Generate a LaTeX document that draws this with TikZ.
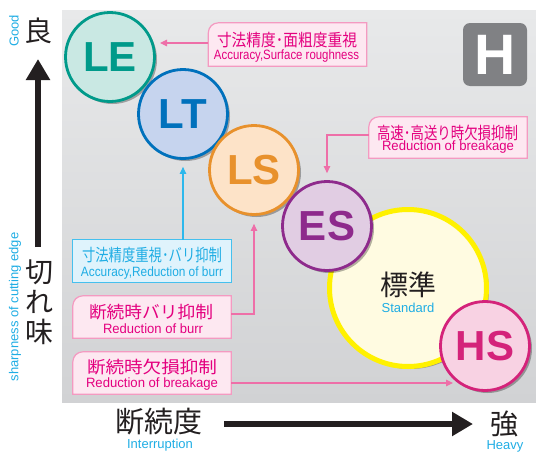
\documentclass[tikz,border=0pt]{standalone}
\usepackage{fontspec}
\setmainfont{Liberation Sans}
\newfontfamily\jp{Noto Sans CJK JP}
\usepackage{graphicx}
\usetikzlibrary{arrows.meta,shadows,calc}
\pgfdeclarelayer{panel}\pgfdeclarelayer{boxes}
\pgfsetlayers{panel,boxes,main}
\definecolor{panelTop}{HTML}{E8E9EA}
\definecolor{panelBot}{HTML}{D1D2D4}
\definecolor{leB}{HTML}{009A8A}\definecolor{leF}{HTML}{C9E8E3}
\definecolor{ltB}{HTML}{0071BC}\definecolor{ltF}{HTML}{C6D4EE}
\definecolor{lsB}{HTML}{E8912C}\definecolor{lsF}{HTML}{FDE3C8}
\definecolor{esB}{HTML}{8E2A8C}\definecolor{esF}{HTML}{E1CDE3}
\definecolor{stB}{HTML}{FFF100}\definecolor{stF}{HTML}{FFFBE1}
\definecolor{hsB}{HTML}{D4237A}\definecolor{hsF}{HTML}{F8D2E3}
\definecolor{pinkT}{HTML}{E4007F}\definecolor{pinkB}{HTML}{F49AC1}
\definecolor{pinkF}{HTML}{FDE8F1}\definecolor{pinkA}{HTML}{EE6FA8}
\definecolor{cyanT}{HTML}{1FADE4}\definecolor{cyanB}{HTML}{45C0EE}
\definecolor{cyanF}{HTML}{DFF3FC}\definecolor{cyanA}{HTML}{2DB8EC}
\definecolor{hgray}{HTML}{808184}
\definecolor{ink}{HTML}{231F20}
\newcommand\fitw[2]{\resizebox{#1}{\height}{#2}}
\begin{document}
\begin{tikzpicture}[x=1pt,y=-1pt,
  circ/.style={circle,minimum size=89pt,inner sep=0pt,line width=2.8pt,
    font=\bfseries\fontsize{42pt}{42pt}\selectfont,
    drop shadow={shadow xshift=2.5pt,shadow yshift=-2.5pt,fill=black,opacity=0.3}},
  boxnode/.style={minimum width=158pt,minimum height=42pt,inner sep=0pt},
  pinkbox/.style={draw=pinkB,fill=pinkF,line width=1.2pt},
  cyanbox/.style={draw=cyanB,fill=cyanF,line width=1.2pt},
  jpt/.style={inner sep=0pt,font=\jp\fontsize{17pt}{18pt}\selectfont},
  ent/.style={inner sep=0pt,font=\fontsize{13.5pt}{15pt}\selectfont},
  pinkarrow/.style={draw=pinkA,line width=1.2pt,-{Triangle[length=7pt,width=6.5pt]}},
  cyanarrow/.style={draw=cyanA,line width=1.2pt,-{Triangle[length=7pt,width=6.5pt]}},
  axisarrow/.style={draw=ink,line width=6.5pt,-{Triangle[length=21pt,width=23pt]}},
  bigjp/.style={inner sep=0pt,text=ink,font=\jp\fontsize{28pt}{30pt}\selectfont},
  cyantxt/.style={inner sep=0pt,text=cyanT,font=\fontsize{13pt}{15pt}\selectfont}]
\useasboundingbox (0,0) rectangle (536,453);
\begin{pgfonlayer}{panel}
\shade[top color=panelTop,bottom color=panelBot] (62,10) rectangle (536,402);
\end{pgfonlayer}

% H badge
\node[fill=hgray,rounded corners=7pt,minimum width=64pt,minimum height=63pt,inner sep=0pt,
  text=white,font=\bfseries\fontsize{57pt}{57pt}\selectfont] (hbadge) at (495,54.5) {H};

% circles
\node[circ,draw=leB,fill=leF,text=leB] (LE) at (110,57) {LE};
\node[circ,draw=ltB,fill=ltF,text=ltB] (LT) at (183,114) {LT};
\node[circ,draw=lsB,fill=lsF,text=lsB] (LS) at (254,170) {LS};
\node[circle,minimum size=157pt,inner sep=0pt,line width=5pt,draw=stB,fill=stF,
  drop shadow={shadow xshift=2.5pt,shadow yshift=-2.5pt,fill=black,opacity=0.3}] (STD) at (408,288) {};
\node[bigjp] (stdj) at (408,285) {標準};
\node[cyantxt] (stde) at (408,308) {Standard};
\node[circ,draw=esB,fill=esF,text=esB] (ES) at (327,226) {ES};
\node[circ,draw=hsB,fill=hsF,text=hsB] (HS) at (485,346) {HS};

% label boxes
\node[boxnode,minimum height=43pt] (b1) at (287.5,44.5) {};
\node[boxnode,minimum height=41pt] (b2) at (448,137.5) {};
\node[boxnode] (b3) at (152,261) {};
\node[boxnode] (b4) at (152,317) {};
\node[boxnode] (b5) at (152,373) {};
\begin{pgfonlayer}{boxes}
\foreach \b in {b1,b2,b4,b5}{
  \draw[pinkbox] (\b.south west) -- ([yshift=-10pt]\b.north west)
    arc[start angle=180,end angle=90,radius=10pt] -- (\b.north east) -- (\b.south east) -- cycle;}
\draw[cyanbox] (b3.south west) rectangle (b3.north east);
\end{pgfonlayer}

\node[jpt,text=pinkT] (b1j) at (287,40) {\fitw{140pt}{寸法精度･面粗度重視}};
\node[ent,text=pinkT] (b1e) at (286.5,56) {\fitw{145pt}{Accuracy,Surface roughness}};
\node[jpt,text=pinkT] (b2j) at (447.5,133) {\fitw{141pt}{高速･高送り時欠損抑制}};
\node[ent,text=pinkT] (b2e) at (448,147.5) {\fitw{132pt}{Reduction of breakage}};
\node[jpt,text=cyanT] (b3j) at (152,255) {\fitw{140pt}{寸法精度重視･バリ抑制}};
\node[ent,text=cyanT] (b3e) at (152,273) {\fitw{142pt}{Accuracy,Reduction of burr}};
\node[jpt,text=pinkT] (b4j) at (151,312) {\fitw{124pt}{断続時バリ抑制}};
\node[ent,text=pinkT] (b4e) at (153,329) {\fitw{100pt}{Reduction of burr}};
\node[jpt,text=pinkT] (b5j) at (152,367) {\fitw{130pt}{断続時欠損抑制}};
\node[ent,text=pinkT] (b5e) at (152,384) {\fitw{132pt}{Reduction of breakage}};

% connectors
\coordinate (t1) at (160,43);
\draw[pinkarrow] (b1.west |- t1) -- (t1);
\draw[pinkarrow] ([yshift=2.5pt]b2.west) -| ([yshift=7pt]ES.north);
\draw[cyanarrow] (b3.north -| LT.south) -- ([yshift=-7pt]LT.south);
\draw[pinkarrow] ([yshift=3pt]b4.east) -| ([yshift=-8pt]LS.south);
\coordinate (t5) at (453,383);
\draw[pinkarrow] (b5.east |- t5) -- (t5);

% axes
\coordinate (vb) at (38,247); \coordinate (vt) at (38,59);
\draw[axisarrow] (vb) -- (vt);
\coordinate (hl) at (224,424); \coordinate (hr) at (473,424);
\draw[axisarrow] (hl) -- (hr);

\node[bigjp] (good) at (38,31) {良};
\node[cyantxt,rotate=90] (goode) at (14,31) {Good};
\node[bigjp,align=center] (kireaji) at (39,302) {切\\れ\\味};
\node[cyantxt,rotate=90] (kireajie) at (15,307) {sharpness of cutting edge};
\node[bigjp,font=\jp\fontsize{29pt}{30pt}\selectfont] (dan) at (159,422) {断続度};
\node[cyantxt] (dane) at (160,445) {Interruption};
\node[bigjp] (tsuyo) at (504,424) {強};
\node[cyantxt] (tsuyoe) at (505,446) {Heavy};
\end{tikzpicture}
\end{document}
